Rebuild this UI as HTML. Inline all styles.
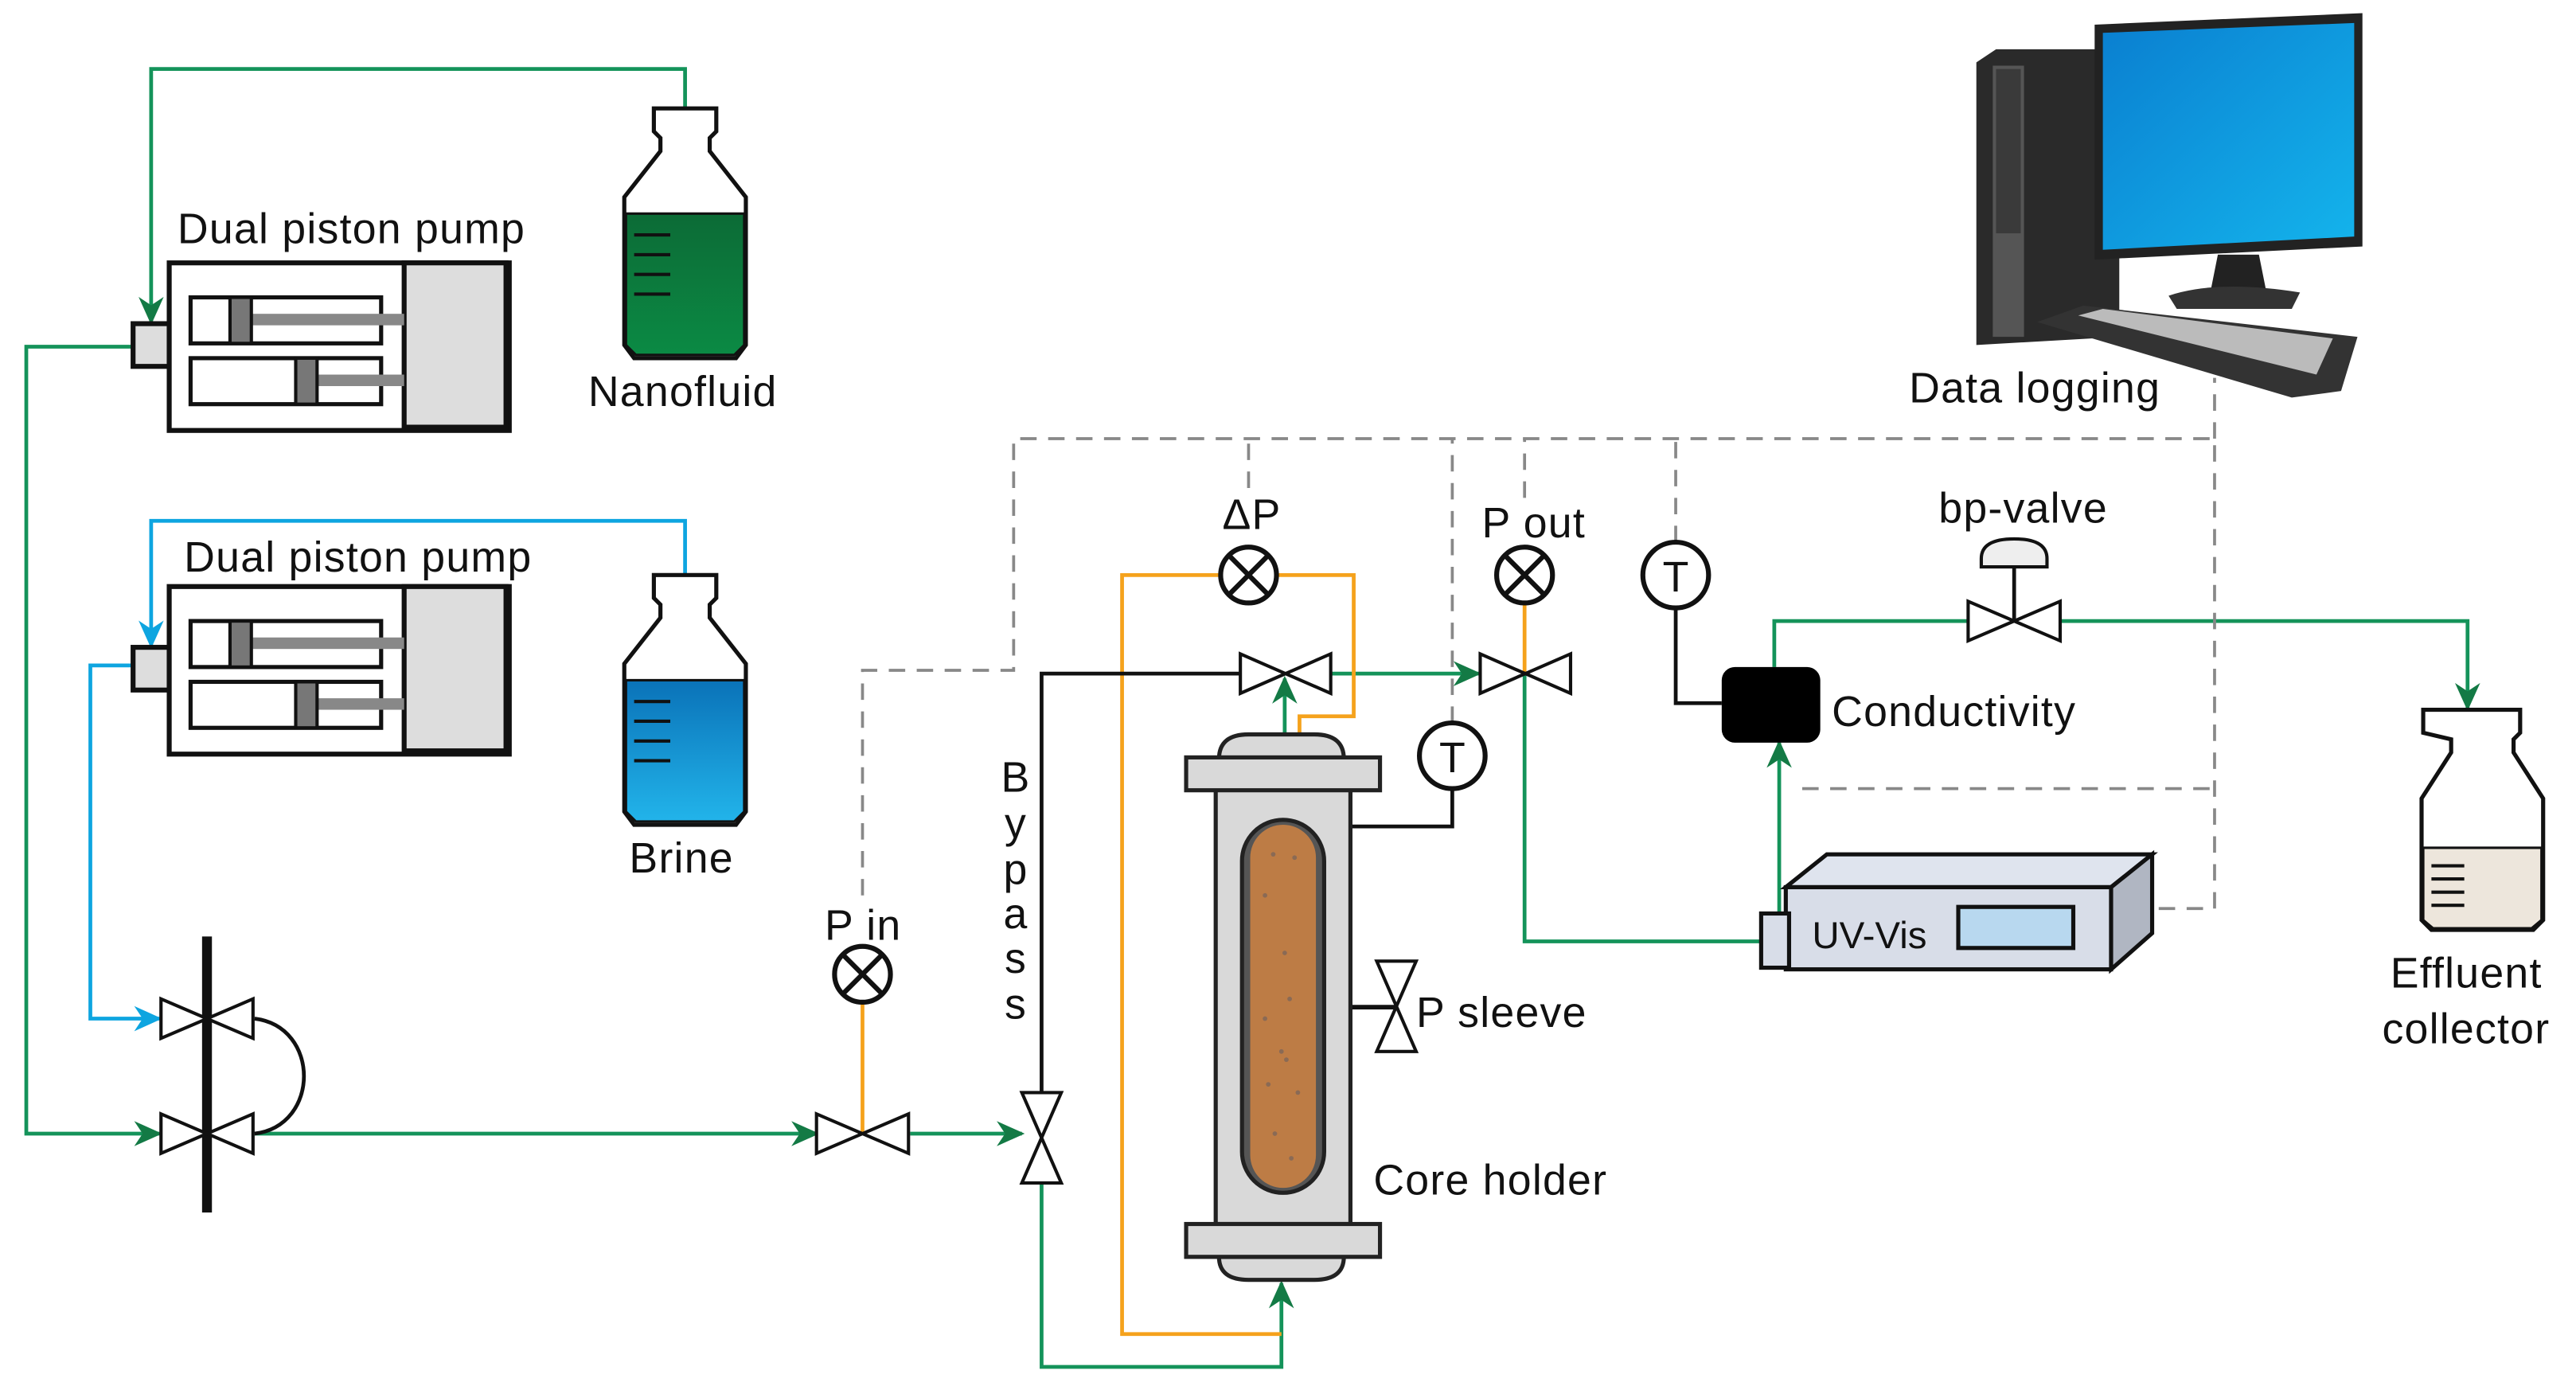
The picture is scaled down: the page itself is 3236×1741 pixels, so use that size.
<!DOCTYPE html>
<html><head><meta charset="utf-8"><style>
html,body{margin:0;padding:0;background:#fff;width:3236px;height:1741px;overflow:hidden}
svg{display:block}
text{font-family:"Liberation Sans",sans-serif;fill:#111}
</style></head><body>
<svg width="3236" height="1741" viewBox="0 0 1568 843.6" xmlns="http://www.w3.org/2000/svg">
<defs>
<marker id="ag" viewBox="0 0 10 10" refX="9" refY="5" markerWidth="17" markerHeight="17" markerUnits="userSpaceOnUse" orient="auto"><path d="M0,0.5 L10,5 L0,9.5 L3,5z" fill="#137a45"/></marker>
<marker id="ab" viewBox="0 0 10 10" refX="9" refY="5" markerWidth="17" markerHeight="17" markerUnits="userSpaceOnUse" orient="auto"><path d="M0,0.5 L10,5 L0,9.5 L3,5z" fill="#0ea5e0"/></marker>
<linearGradient id="gg" x1="0" y1="0" x2="0" y2="1"><stop offset="0" stop-color="#0c6b36"/><stop offset="1" stop-color="#0b8a44"/></linearGradient>
<linearGradient id="bg" x1="0" y1="0" x2="0" y2="1"><stop offset="0" stop-color="#0a72b8"/><stop offset="1" stop-color="#22b4ea"/></linearGradient>
<linearGradient id="sc" x1="0" y1="0" x2="1" y2="1"><stop offset="0" stop-color="#0a7fd0"/><stop offset="1" stop-color="#14b4ec"/></linearGradient>
</defs>
<g fill="none" stroke-width="2.3">
<path d="M417,66 V42 H92 V196" stroke="#14935a" marker-end="url(#ag)"/>
<path d="M81,211 H16 V690 H97" stroke="#14935a" marker-end="url(#ag)"/>
<path d="M417,350 V317 H92 V393" stroke="#0ea5e0" marker-end="url(#ab)"/>
<path d="M81,405 H55 V620 H97" stroke="#0ea5e0" marker-end="url(#ab)"/>
<path d="M155,690 H497" stroke="#14935a" marker-end="url(#ag)"/>
<path d="M554,690 H622" stroke="#14935a" marker-end="url(#ag)"/>
<path d="M634,720 V832 H780 V781" stroke="#14935a" marker-end="url(#ag)"/>
<path d="M782,448 V413" stroke="#14935a" marker-end="url(#ag)"/>
<path d="M810,410 H900" stroke="#14935a" marker-end="url(#ag)"/>
<path d="M928,410 V573 H1072" stroke="#14935a"/>
<path d="M1083,555 V452" stroke="#14935a" marker-end="url(#ag)"/>
<path d="M1080,406 V378 H1198 M1254,378 H1502 V431" stroke="#14935a" marker-end="url(#ag)"/>
<path d="M525,610 V690" stroke="#f5a21c"/>
<path d="M742,350 H683 V812 H780" stroke="#f5a21c"/>
<path d="M778,350 H824 V436 H791 V448" stroke="#f5a21c"/>
<path d="M928,368 V410" stroke="#f5a21c"/>
<path d="M634,665 V410 H755" stroke="#111"/>
<path d="M884,480 V503 H822" stroke="#111"/>
<path d="M822,613 H850" stroke="#111" stroke-width="2.8"/>
<path d="M1020,370 V428 H1048" stroke="#111"/>
<path d="M1226,345 V378" stroke="#111"/>
<path d="M155,620 C195,625 195,685 155,690" stroke="#111"/>
<g stroke="#888" stroke-width="1.8" stroke-dasharray="10,7">
<path d="M525,545 V408 H617 V267 H1348 V553 H1312"/>
<path d="M760,297 V267"/><path d="M884,440 V267"/><path d="M928,303 V267"/><path d="M1020,330 V267"/>
<path d="M1097,480 H1348"/><path d="M1348,267 V230"/>
</g>
</g>
<g id="p1" stroke="#111" stroke-width="3">
<rect x="81" y="197" width="22" height="26" fill="#ddd"/>
<rect x="103" y="160" width="207" height="102" fill="#fff"/>
<rect x="246" y="160" width="62" height="100" fill="#ddd"/>
<rect x="116" y="181" width="116" height="28" fill="#fff" stroke-width="2.5"/>
<rect x="116" y="218" width="116" height="28" fill="#fff" stroke-width="2.5"/>
<rect x="152" y="191" width="94" height="7" fill="#888" stroke="none"/>
<rect x="192" y="228" width="54" height="7" fill="#888" stroke="none"/>
<rect x="140" y="181" width="13" height="28" fill="#777" stroke-width="2"/>
<rect x="180" y="218" width="13" height="28" fill="#777" stroke-width="2"/>
</g>
<use href="#p1" y="197"/>
<g stroke="#111" stroke-width="2.5">
<path d="M398,66 H436 V80 L432,84 V92 L454,120 V210 L448,218 H386 L380,210 V120 L402,92 V84 L398,80Z" fill="#fff"/>
<path d="M381,130 H453 V210 L447,216 H387 L381,210Z" fill="url(#gg)" stroke-width="1.5"/>
<path d="M386,143 h22 M386,155 h22 M386,167 h22 M386,179 h22" stroke-width="2"/>
<path d="M398,350 H436 V364 L432,368 V376 L454,404 V494 L448,502 H386 L380,494 V404 L402,376 V368 L398,364Z" fill="#fff"/>
<path d="M381,414 H453 V494 L447,500 H387 L381,494Z" fill="url(#bg)" stroke-width="1.5"/>
<path d="M386,427 h22 M386,439 h22 M386,451 h22 M386,463 h22" stroke-width="2"/>
<path d="M1475,432 H1534 V446 L1530,450 V458 L1548,486 V560 L1542,566 H1480 L1474,560 V486 L1492,458 V450 L1475,446Z" fill="#fff"/>
<path d="M1475,516 H1547 V560 L1541,565 H1481 L1475,560Z" fill="#ede6dc" stroke-width="1.5"/>
<path d="M1480,527 h20 M1480,535 h20 M1480,543 h20 M1480,551 h20" stroke-width="2"/>
</g>
<rect x="123" y="570" width="6" height="168" fill="#111"/>
<g stroke="#111" stroke-width="2" fill="#fff">
<path d="M98,608 L154,632 V608 L98,632Z"/>
<path d="M98,678 L154,702 V678 L98,702Z"/>
<path d="M497,678 L553,702 V678 L497,702Z"/>
<path d="M622,665 L646,720 H622 L646,665Z"/>
<path d="M755,398 L810,422 V398 L755,422Z"/>
<path d="M901,398 L956,422 V398 L901,422Z"/>
<path d="M1198,366 L1254,390 V366 L1198,390Z"/>
<path d="M838,585 L862,640 H838 L862,585Z"/>
<path d="M1206,345 H1246 V340 Q1246,328 1226,328 Q1206,328 1206,340Z" fill="#eee"/>
</g>
<g stroke="#111" stroke-width="3" fill="#fff">
<circle cx="525" cy="593" r="17"/><path d="M513,581 L537,605 M537,581 L513,605"/>
<circle cx="760" cy="350" r="17"/><path d="M748,338 L772,362 M772,338 L748,362"/>
<circle cx="928" cy="350" r="17"/><path d="M916,338 L940,362 M940,338 L916,362"/>
<circle cx="884" cy="460" r="20"/>
<circle cx="1020" cy="350" r="20"/>
</g>
<text x="884" y="470" font-size="26" text-anchor="middle">T</text>
<text x="1020" y="360" font-size="26" text-anchor="middle">T</text>
<g stroke="#222" stroke-width="2.5" fill="#d9d9d9">
<path d="M742,462 Q742,447 760,447 H800 Q818,447 818,462Z"/>
<rect x="740" y="480" width="82" height="265"/>
<rect x="722" y="461" width="118" height="20"/>
<path d="M742,765 Q742,779 760,779 H800 Q818,779 818,765Z"/>
<rect x="722" y="745" width="118" height="20"/>
<rect x="756" y="499" width="50" height="227" rx="25" fill="#555"/>
<rect x="761" y="502" width="40" height="221" rx="20" fill="#bd7c45" stroke="none"/>
</g>
<g fill="#8a6a55">
<circle cx="775" cy="520" r="1.4"/><circle cx="788" cy="522" r="1.4"/><circle cx="770" cy="545" r="1.4"/><circle cx="782" cy="580" r="1.4"/><circle cx="785" cy="608" r="1.4"/><circle cx="780" cy="640" r="1.4"/><circle cx="772" cy="660" r="1.4"/><circle cx="790" cy="665" r="1.4"/><circle cx="776" cy="690" r="1.4"/><circle cx="786" cy="705" r="1.4"/><circle cx="770" cy="620" r="1.4"/><circle cx="783" cy="645" r="1.4"/>
</g>
<rect x="1048" y="406" width="60" height="46" rx="8" fill="#000"/>
<g stroke="#111" stroke-width="2.5">
<path d="M1087,540 L1112,520 H1310 L1285,540Z" fill="#dfe4ee"/>
<path d="M1285,540 L1310,520 V568 L1285,590Z" fill="#b0b6c2"/>
<rect x="1087" y="540" width="198" height="50" fill="#d8dde8"/>
<rect x="1072" y="556" width="17" height="33" fill="#d8dde8"/>
<rect x="1192" y="552" width="70" height="25" fill="#b8d8ef"/>
</g>
<g>
<path d="M1203,38 L1215,30 H1290 V205 L1203,210Z" fill="#2a2a2a"/>
<path d="M1213,40 H1232 V205 H1213Z" fill="#555"/>
<rect x="1215" y="42" width="15" height="100" fill="#3a3a3a"/>
<path d="M1275,15 L1438,8 V150 L1275,158Z" fill="#222"/>
<path d="M1280,20 L1433,14 V144 L1280,152Z" fill="url(#sc)"/>
<path d="M1350,155 H1375 L1380,180 H1345Z" fill="#222"/>
<path d="M1320,180 Q1350,170 1400,178 L1395,188 H1325Z" fill="#333"/>
<path d="M1240,196 L1268,186 L1435,205 L1425,238 L1395,242 Z" fill="#333"/>
<path d="M1265,192 L1280,188 L1420,206 L1410,228 Z" fill="#bbb"/>
</g>
<g font-size="26" letter-spacing="0.6">
<text x="108" y="148">Dual piston pump</text>
<text x="112" y="348">Dual piston pump</text>
<text x="358" y="247">Nanofluid</text>
<text x="383" y="531">Brine</text>
<text x="502" y="572">P in</text>
<text x="744" y="322">ΔP</text>
<text x="902" y="327">P out</text>
<text x="862" y="625">P sleeve</text>
<text x="836" y="727">Core holder</text>
<text x="1115" y="442">Conductivity</text>
<text x="1180" y="318">bp-valve</text>
<text x="1162" y="245">Data logging</text>
<text x="1455" y="601">Effluent</text>
<text x="1450" y="635">collector</text>
<text x="1103" y="577" font-size="23" letter-spacing="0">UV-Vis</text>
<g text-anchor="middle" letter-spacing="0"><text x="618" y="482">B</text><text x="618" y="510">y</text><text x="618" y="538">p</text><text x="618" y="565">a</text><text x="618" y="592">s</text><text x="618" y="620">s</text></g>
</g>
</svg>
</body></html>
